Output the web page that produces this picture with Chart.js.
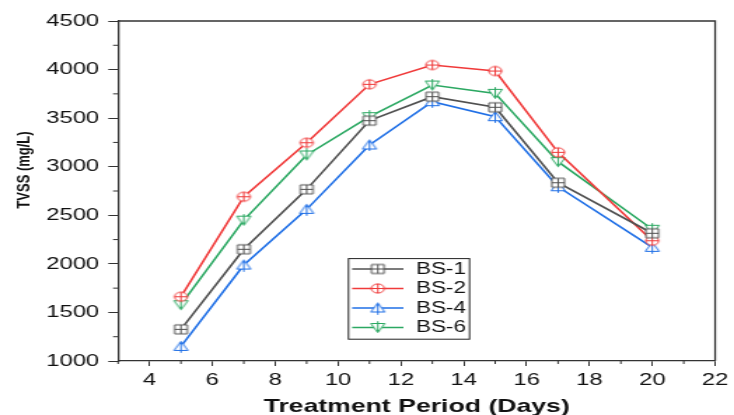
<!DOCTYPE html>
<html>
<head>
<meta charset="utf-8">
<script src="https://cdn.jsdelivr.net/npm/chart.js@4.4.1/dist/chart.umd.min.js"></script>
<style>
html,body{margin:0;padding:0;background:#fff;overflow:hidden;}
#wrap{width:524px;height:415px;transform:scaleX(1.40076);transform-origin:0 0;}
</style>
</head>
<body>
<div id="wrap"><canvas id="c" width="524" height="415"></canvas></div>
<script>
// ---- data ----
const days = [5, 7, 9, 11, 13, 15, 17, 20];
const seriesNames = ['BS-1', 'BS-2', 'BS-4', 'BS-6'];
const bs1 = [1326, 2150, 2767, 3474, 3721, 3612, 2835, 2315];
const bs2 = [1662, 2691, 3247, 3848, 4047, 3985, 3148, 2238];
const bs4 = [1150, 1988, 2561, 3224, 3670, 3515, 2794, 2170];
const bs6 = [1580, 2450, 3121, 3515, 3841, 3755, 3052, 2356];
const xTickValues = [4, 6, 8, 10, 12, 14, 16, 18, 20, 22];
const yTickValues = [1000, 1500, 2000, 2500, 3000, 3500, 4000, 4500];
const xMinorValues = [3, 5, 7, 9, 11, 13, 15, 17, 19, 21];
const yMinorValues = [1250, 1750, 2250, 2750, 3250, 3750, 4250];
const xTitle = 'Treatment Period (Days)';
const yTitle = 'TVSS (mg/L)';

const colors = ['#505050', '#f03a3a', '#1f6fe6', '#2ba862'];
const markerTypes = ['square', 'circle', 'triUp', 'triDown'];

function makeMarker(type, color) {
  const s = 13, c = 6.5;
  const cv = document.createElement('canvas');
  cv.width = s; cv.height = s;
  const g = cv.getContext('2d');
  g.strokeStyle = color; g.fillStyle = '#fff'; g.lineWidth = 1;
  g.beginPath();
  if (type === 'square') {
    g.rect(2, 2, 9, 9); g.fill(); g.stroke();
    g.beginPath(); g.moveTo(c, 2); g.lineTo(c, 11); g.moveTo(2, c); g.lineTo(11, c); g.stroke();
  } else if (type === 'circle') {
    g.arc(c, c, 4.6, 0, Math.PI * 2); g.fill(); g.stroke();
    g.beginPath(); g.moveTo(c, 1.9); g.lineTo(c, 11.1); g.moveTo(1.9, c); g.lineTo(11.1, c); g.stroke();
  } else if (type === 'triUp') {
    g.moveTo(c, 1.5); g.lineTo(11.5, 10.5); g.lineTo(1.5, 10.5); g.closePath(); g.fill(); g.stroke();
    g.beginPath(); g.moveTo(c, 1.5); g.lineTo(c, 12.8); g.stroke();
  } else {
    g.moveTo(1.5, 2.5); g.lineTo(11.5, 2.5); g.lineTo(c, 11.5); g.closePath(); g.fill(); g.stroke();
    g.beginPath(); g.moveTo(c, 0.2); g.lineTo(c, 11.5); g.stroke();
  }
  return cv;
}
const markers = markerTypes.map((t, i) => makeMarker(t, colors[i]));
const allSeries = [bs1, bs2, bs4, bs6];

const datasets = allSeries.map((vals, i) => ({
  label: seriesNames[i],
  data: days.map((d, k) => ({ x: d, y: vals[k] })),
  borderColor: colors[i],
  backgroundColor: colors[i],
  borderWidth: 1.6,
  pointStyle: markers[i],
  pointRadius: 6,
  tension: 0,
  fill: false
}));

const FONT = "'Liberation Sans', Arial, sans-serif";
const axisColor = '#333';

const decorPlugin = {
  id: 'decor',
  afterDraw(chart) {
    const { ctx, chartArea: a, scales } = chart;
    ctx.save();
    // top/right frame
    ctx.strokeStyle = axisColor; ctx.lineWidth = 1.3;
    ctx.beginPath();
    ctx.moveTo(a.left, a.top); ctx.lineTo(a.right, a.top); ctx.lineTo(a.right, a.bottom);
    ctx.stroke();
    // minor ticks
    ctx.lineWidth = 1;
    ctx.beginPath();
    yMinorValues.forEach(v => { const y = scales.y.getPixelForValue(v); ctx.moveTo(a.left - 3.6, y); ctx.lineTo(a.left, y); });
    xMinorValues.forEach(v => { const x = scales.x.getPixelForValue(v); ctx.moveTo(x, a.bottom); ctx.lineTo(x, a.bottom + 3); });
    ctx.stroke();
    // y axis title
    ctx.fillStyle = '#111';
    ctx.font = 'bold 13px ' + FONT;
    ctx.textAlign = 'center'; ctx.textBaseline = 'middle';
    ctx.translate(17.5, 170); ctx.rotate(-Math.PI / 2);
    ctx.fillText(yTitle, 0, 0);
    ctx.restore();
    // legend
    ctx.save();
    const L = 248.8, R = 335.2, T = 258.6, B = 339.2;
    ctx.fillStyle = '#fff'; ctx.fillRect(L, T, R - L, B - T);
    ctx.strokeStyle = '#222'; ctx.lineWidth = 1; ctx.strokeRect(L, T, R - L, B - T);
    const rows = [269, 288.5, 308, 327.5];
    ctx.font = '16px ' + FONT; ctx.textBaseline = 'middle'; ctx.textAlign = 'left';
    chart.data.datasets.forEach((ds, i) => {
      const y = rows[i];
      ctx.strokeStyle = ds.borderColor; ctx.lineWidth = 1.6;
      ctx.beginPath(); ctx.moveTo(251.4, y); ctx.lineTo(288, y); ctx.stroke();
      const m = ds.pointStyle;
      ctx.drawImage(m, 269.7 - m.width / 2, y - m.height / 2);
      ctx.fillStyle = '#111';
      ctx.fillText(ds.label, 297, y + 0.5);
    });
    ctx.restore();
  }
};

new Chart(document.getElementById('c'), {
  type: 'line',
  data: { datasets },
  options: {
    responsive: false,
    animation: false,
    devicePixelRatio: 1,
    layout: { padding: { left: 0, top: 21, right: 9.7, bottom: 0 } },
    plugins: { legend: { display: false }, tooltip: { enabled: false } },
    scales: {
      x: {
        type: 'linear', min: 3, max: 22,
        afterFit: s => { s.height = 54; },
        afterBuildTicks: s => { s.ticks = xTickValues.map(v => ({ value: v })); },
        border: { display: true, color: axisColor, width: 1.3 },
        grid: { drawOnChartArea: false, drawTicks: true, tickLength: 5, color: axisColor, tickColor: axisColor },
        ticks: { padding: 4, color: '#111', font: { family: FONT, size: 17 }, maxRotation: 0, callback: v => String(v) },
        title: { display: true, text: xTitle, color: '#111', font: { family: FONT, size: 19, weight: 'bold', lineHeight: 1 }, padding: { top: 0, bottom: -1 } }
      },
      y: {
        type: 'linear', min: 1000, max: 4500,
        afterFit: s => { s.width = 84.3; },
        afterBuildTicks: s => { s.ticks = yTickValues.map(v => ({ value: v })); },
        border: { display: true, color: axisColor, width: 1.3 },
        grid: { drawOnChartArea: false, drawTicks: true, tickLength: 7, color: axisColor, tickColor: axisColor },
        ticks: { padding: 6.5, color: '#111', font: { family: FONT, size: 17 }, callback: v => String(v) },
        title: { display: false, text: yTitle }
      }
    }
  },
  plugins: [decorPlugin]
});
</script>
</body>
</html>
